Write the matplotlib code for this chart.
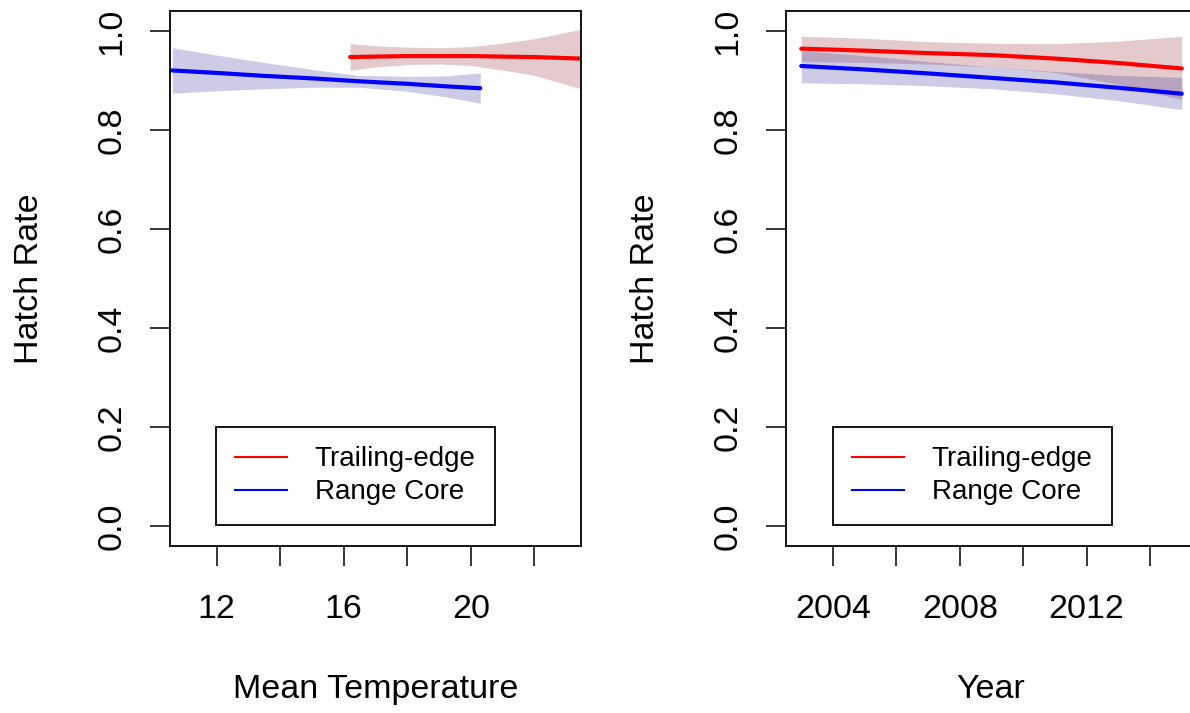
import matplotlib
matplotlib.use("Agg")
import matplotlib.pyplot as plt
from matplotlib.lines import Line2D

plt.rcParams['font.family'] = ['Liberation Sans', 'DejaVu Sans']

# ---------------- data: left panel (Mean Temperature) ----------------
temp_core = [10.6, 12.0, 13.5, 15.0, 16.5, 18.0, 19.2, 20.3]
rate_core_t = [0.920, 0.915, 0.909, 0.904, 0.898, 0.893, 0.888, 0.884]
upper_core_t = [0.966, 0.951, 0.936, 0.922, 0.910, 0.908, 0.909, 0.915]
lower_core_t = [0.874, 0.879, 0.883, 0.886, 0.886, 0.878, 0.867, 0.854]

temp_trail = [16.2, 17.0, 18.0, 19.0, 20.0, 21.0, 22.0, 23.47]
rate_trail_t = [0.947, 0.948, 0.949, 0.949, 0.949, 0.948, 0.947, 0.944]
upper_trail_t = [0.974, 0.970, 0.967, 0.966, 0.968, 0.975, 0.984, 1.003]
lower_trail_t = [0.920, 0.927, 0.932, 0.933, 0.930, 0.921, 0.910, 0.883]

# ---------------- data: right panel (Year) ----------------
years = [2003, 2005, 2007, 2009, 2011, 2013, 2015]
rate_trail_y = [0.964, 0.960, 0.955, 0.951, 0.944, 0.935, 0.924]
upper_trail_y = [0.989, 0.985, 0.978, 0.975, 0.974, 0.979, 0.989]
lower_trail_y = [0.938, 0.936, 0.933, 0.927, 0.916, 0.892, 0.861]

rate_core_y = [0.929, 0.922, 0.914, 0.905, 0.896, 0.885, 0.873]
upper_core_y = [0.960, 0.950, 0.938, 0.927, 0.918, 0.910, 0.906]
lower_core_y = [0.895, 0.893, 0.889, 0.883, 0.873, 0.859, 0.841]

y_ticks = [0.0, 0.2, 0.4, 0.6, 0.8, 1.0]
y_ticklabels = ["0.0", "0.2", "0.4", "0.6", "0.8", "1.0"]
temp_ticks = [12, 14, 16, 18, 20, 22]
temp_ticklabels = ["12", "", "16", "", "20", ""]
year_ticks = [2004, 2006, 2008, 2010, 2012, 2014]
year_ticklabels = ["2004", "", "2008", "", "2012", ""]
legend_labels = ["Trailing-edge", "Range Core"]

# ---------------- styling ----------------
W, H = 1190, 713
fig = plt.figure(figsize=(W / 100, H / 100), dpi=100)

RED_FILL = (0.59, 0.18, 0.21, 0.25)
BLUE_FILL = (0.22, 0.20, 0.61, 0.25)
FS = 24.5
LFS = 20


def px_axes(left, top, right, bottom):
    return fig.add_axes([left / W, 1 - bottom / H, (right - left) / W, (bottom - top) / H])


def style(ax, xlim, xticks, xticklabels):
    ax.set_xlim(*xlim)
    ax.set_ylim(-0.04, 1.04)
    ax.set_yticks(y_ticks)
    ax.set_yticklabels(y_ticklabels, rotation=90, va='center')
    ax.set_xticks(xticks)
    ax.set_xticklabels(xticklabels)
    ax.tick_params(direction='out', length=14.4, width=1.1, pad=16,
                   labelsize=FS, colors='black')
    ax.tick_params(axis='x', pad=20)
    for s in ax.spines.values():
        s.set_linewidth(1.3)
        s.set_color('black')


def legend(ax, x0, y0):
    handles = [Line2D([], [], color='#FF0000', lw=1.5),
               Line2D([], [], color='#0000FF', lw=1.5)]
    lg = ax.legend(handles, legend_labels, loc='upper left',
                   bbox_to_anchor=(x0 / W, 1 - y0 / H), bbox_transform=fig.transFigure,
                   borderaxespad=0, fontsize=LFS, frameon=True, fancybox=False,
                   borderpad=0.7, handlelength=1.85, handletextpad=1.0,
                   labelspacing=0.25)
    fr = lg.get_frame()
    fr.set_edgecolor('black')
    fr.set_linewidth(1.3)
    fr.set_alpha(1)


# left panel
ax1 = px_axes(170, 11, 581, 546)
ax1.fill_between(temp_trail, lower_trail_t, upper_trail_t, color=RED_FILL, lw=0)
ax1.fill_between(temp_core, lower_core_t, upper_core_t, color=BLUE_FILL, lw=0)
ax1.plot(temp_trail, rate_trail_t, color='#FF0000', lw=3, solid_capstyle='round')
ax1.plot(temp_core, rate_core_t, color='#0000FF', lw=3, solid_capstyle='round')
style(ax1, (10.53, 23.47), temp_ticks, temp_ticklabels)
legend(ax1, 216, 427)

# right panel
ax2 = px_axes(786, 11, 1197, 546)
ax2.fill_between(years, lower_trail_y, upper_trail_y, color=RED_FILL, lw=0)
ax2.fill_between(years, lower_core_y, upper_core_y, color=BLUE_FILL, lw=0)
ax2.plot(years, rate_trail_y, color='#FF0000', lw=3, solid_capstyle='round')
ax2.plot(years, rate_core_y, color='#0000FF', lw=3, solid_capstyle='round')
style(ax2, (2002.52, 2015.48), year_ticks, year_ticklabels)
legend(ax2, 833, 427)

# axis titles
fig.text(376 / W, 1 - 698 / H, "Mean Temperature", ha='center', va='baseline', fontsize=FS)
fig.text(991 / W, 1 - 698 / H, "Year", ha='center', va='baseline', fontsize=FS)
fig.text(30 / W, 1 - 278.5 / H, "Hatch Rate", ha='center', va='center', rotation=90, fontsize=FS)
fig.text(646 / W, 1 - 278.5 / H, "Hatch Rate", ha='center', va='center', rotation=90, fontsize=FS)

fig.savefig("out.png", dpi=100)
